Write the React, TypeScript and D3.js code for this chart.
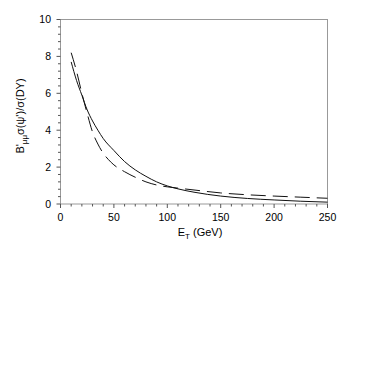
import React from "react";
import * as d3 from "d3";

const solidX = [10, 15, 20, 25, 30, 35, 40, 50, 60, 70, 80, 90, 100, 110, 125, 150, 175, 200, 225, 250];
const solidY = [7.7, 6.7, 5.9, 5.1, 4.5, 4.0, 3.55, 2.9, 2.3, 1.85, 1.5, 1.2, 0.98, 0.82, 0.64, 0.43, 0.3, 0.22, 0.15, 0.1];
const dashX = [10, 15, 20, 25, 30, 35, 40, 45, 50, 60, 70, 80, 90, 100, 110, 125, 150, 175, 200, 225, 250];
const dashY = [8.2, 7.2, 6.0, 4.9, 3.9, 3.25, 2.75, 2.4, 2.12, 1.75, 1.45, 1.2, 1.03, 0.93, 0.86, 0.76, 0.6, 0.5, 0.43, 0.37, 0.31];
const xTicks = [0, 50, 100, 150, 200, 250];
const yTicks = [0, 2, 4, 6, 8, 10];

export default function App() {
  const x = d3.scaleLinear().domain([0, 250]).range([60.5, 327.5]);
  const y = d3.scaleLinear().domain([0, 10]).range([204, 19.5]);
  const line = d3
    .line<[number, number]>()
    .x((d) => x(d[0]))
    .y((d) => y(d[1]))
    .curve(d3.curveMonotoneX);
  const solid = line(solidX.map((v, i) => [v, solidY[i]]) as [number, number][]) || "";
  const dashed = line(dashX.map((v, i) => [v, dashY[i]]) as [number, number][]) || "";
  const xMinor = d3.range(0, 251, 10);
  const yMinor = d3.range(0, 10.01, 0.4);
  const font = "'Liberation Sans', Arial, Helvetica, sans-serif";
  return (
    <svg
      width={382}
      height={382}
      style={{ position: "absolute", left: 0, top: 0, background: "#fff" }}
      fontFamily={font}
    >
      <rect x={0} y={0} width={382} height={382} fill="#fff" />
      <rect x={x(0)} y={y(10)} width={x(250) - x(0)} height={y(0) - y(10)} fill="none" stroke="#999" strokeWidth={1} />
      {xMinor.map((v) => (
        <line key={"xm" + v} x1={x(v)} x2={x(v)} y1={y(0)} y2={y(0) + (v % 50 === 0 ? 4 : 2.5)} stroke="#555" strokeWidth={1} />
      ))}
      {yMinor.map((v) => (
        <line key={"ym" + v} x1={x(0)} x2={x(0) - (Math.abs(v / 2 - Math.round(v / 2)) < 1e-6 ? 4 : 2.5)} y1={y(v)} y2={y(v)} stroke="#555" strokeWidth={1} />
      ))}
      {xTicks.map((v) => (
        <text key={"xl" + v} x={x(v)} y={221} fontSize={10.5} textAnchor="middle" fill="#000">
          {v}
        </text>
      ))}
      {yTicks.map((v) => (
        <text key={"yl" + v} x={51} y={y(v) + 3.7} fontSize={10.5} textAnchor="end" fill="#000">
          {v}
        </text>
      ))}
      <path d={solid} fill="none" stroke="#111" strokeWidth={1} />
      <path d={dashed} fill="none" stroke="#111" strokeWidth={1} strokeDasharray="15,7" />
      <text x={200} y={236} fontSize={11} textAnchor="middle" fill="#000">
        E<tspan fontSize={8} dy={3}>T</tspan>
        <tspan dy={-3}> (GeV)</tspan>
      </text>
      <text transform="translate(24,116) rotate(-90)" fontSize={11} textAnchor="middle" fill="#000">
        B'<tspan fontSize={8} dy={3}>μμ</tspan>
        <tspan dy={-3}>σ(ψ')/σ(DY)</tspan>
      </text>
    </svg>
  );
}
